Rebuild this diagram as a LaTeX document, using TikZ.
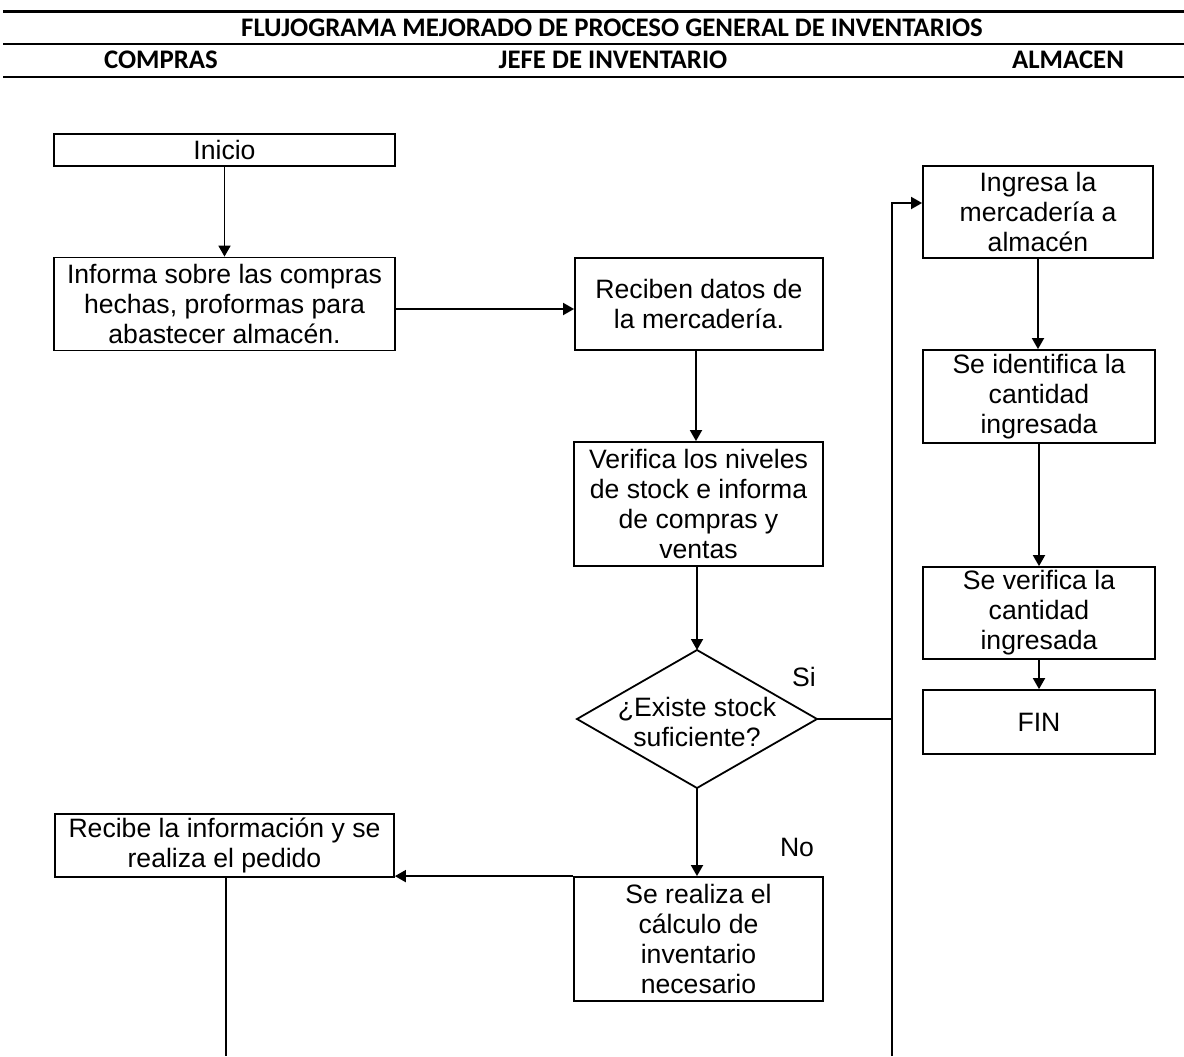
\documentclass[tikz,border=0pt]{standalone}
\usepackage{fontspec}
\setmainfont{Liberation Sans}
\newfontfamily\hdrfont{Carlito}
\usetikzlibrary{arrows.meta,calc}
\tikzset{
  box/.style={draw, line width=0.9pt, rectangle, inner sep=0pt, align=center,
    font=\fontsize{13.3}{15}\selectfont},
  lbl/.style={inner sep=0pt, font=\fontsize{13.3}{15}\selectfont},
  hdr/.style={inner sep=0pt, font=\hdrfont\bfseries\fontsize{13.4}{15}\selectfont},
  conn/.style={line width=0.9pt},
  arr/.style={line width=0.9pt, -{Triangle[length=5.5pt,width=6pt]}},
  rule/.style={line width=1.3pt}
}
\begin{document}
\begin{tikzpicture}[x=0.5pt,y=-0.5pt]
\useasboundingbox (0,0) rectangle (1184,1056);
% header
\draw[rule] (3,11.5) -- (1184,11.5);
\draw[rule] (3,44) -- (1184,44);
\draw[rule] (3,77) -- (1184,77);
\node[hdr] (title) at (612,28) {FLUJOGRAMA MEJORADO DE PROCESO GENERAL DE INVENTARIOS};
\node[hdr] (hcompras) at (161,60) {COMPRAS};
\node[hdr] (hjefe) at (613,60) {JEFE DE INVENTARIO};
\node[hdr] (halmacen) at (1068,60) {ALMACEN};
% boxes
\node[box, minimum width=170.5pt, minimum height=16pt] (inicio) at (224.5,150) {Inicio};
\node[box, minimum width=170.5pt, minimum height=46.5pt] (informa) at (224.5,304) {Informa sobre las compras\\hechas, proformas para\\abastecer almacén.};
\node[box, minimum width=124pt, minimum height=46pt] (reciben) at (699,304) {Reciben datos de\\la mercadería.};
\node[box, minimum width=124.5pt, minimum height=62pt] (verifica) at (698.5,504) {Verifica los niveles\\de stock e informa\\de compras y\\ventas};
% decision diamond
\coordinate (dtop) at (697,650);
\coordinate (dright) at (817,719);
\coordinate (dbot) at (697,788);
\coordinate (dleft) at (577,719);
\draw[conn, line join=miter] (dtop) -- (dright) -- (dbot) -- (dleft) -- cycle;
\node[lbl, align=center] (dtext) at (697,722) {¿Existe stock\\suficiente?};
\node[box, minimum width=124.5pt, minimum height=62pt] (realiza) at (698.5,939) {Se realiza el\\cálculo de\\inventario\\necesario};
\node[box, minimum width=169.5pt, minimum height=31.5pt] (recibe) at (224.5,845.5) {Recibe la información y se\\realiza el pedido};
\node[box, minimum width=115pt, minimum height=46pt] (ingresa) at (1038,212) {Ingresa la\\mercadería a\\almacén};
\node[box, minimum width=116pt, minimum height=46.5pt] (identifica) at (1039,396.5) {Se identifica la\\cantidad\\ingresada};
\node[box, minimum width=116pt, minimum height=46pt] (verif2) at (1039,613) {Se verifica la\\cantidad\\ingresada};
\node[box, minimum width=116pt, minimum height=32pt] (fin) at (1039,722) {FIN};
% labels
\node[lbl] (si) at (804,677) {Si};
\node[lbl] (no) at (797,847) {No};
% connectors
\draw[arr] (inicio.south) -- (informa.north);
\draw[arr] ($(informa.east)+(0,5)$) -- ($(informa.east -| reciben.west)+(0,5)$);
\draw[arr] ($(reciben.south)+(-3,0)$) -- ($(reciben.south |- verifica.north)+(-3,0)$);
\draw[arr] (dtop |- verifica.south) -- (dtop);
\draw[arr] (dbot) -- (dbot |- realiza.north);
\coordinate (loopBot) at (892,1056);
\coordinate (loopTop) at (892,203);
\coordinate (loopJoin) at (892,719);
\draw[conn] (dright) -- (loopJoin);
\draw[arr] (loopBot) -- (loopTop) -- (loopTop -| ingresa.west);
\draw[arr] (realiza.north west) -- (realiza.north west -| recibe.east);
\coordinate (recBot) at (226,1056);
\draw[conn] (recibe.south -| recBot) -- (recBot);
\draw[arr] (ingresa.south) -- (ingresa.south |- identifica.north);
\draw[arr] (identifica.south) -- (verif2.north);
\draw[arr] (verif2.south) -- (fin.north);
\end{tikzpicture}
\end{document}
